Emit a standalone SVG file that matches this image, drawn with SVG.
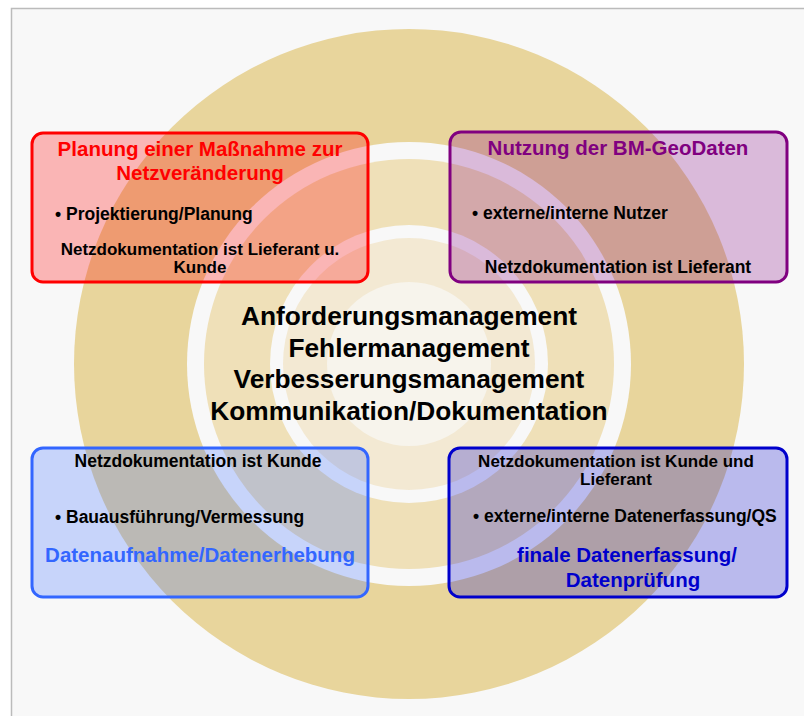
<svg xmlns="http://www.w3.org/2000/svg" width="804" height="716" viewBox="0 0 804 716">
<style>
text{font-family:"Liberation Sans",Arial,sans-serif;font-weight:bold;fill:#000}
.t{font-size:20.5px}
.b{font-size:17.5px}
.w{font-size:17px}
.c{font-size:26.3px;text-anchor:middle}
.m{text-anchor:middle}
.box{stroke-width:3}
</style>
<rect x="0" y="0" width="804" height="716" fill="#ffffff"/>
<rect x="11.5" y="8.5" width="800" height="720" fill="#f8f8f8" stroke="#bbbbbb" stroke-width="1.5"/>
<g id="rings">
<circle cx="409" cy="364" r="335" fill="#e8d59c"/>
<circle cx="409" cy="364" r="222" fill="#f8f8f8"/>
<circle cx="409" cy="364" r="205" fill="#efe0b8"/>
<circle cx="409" cy="364" r="139" fill="#f8f8f8"/>
<circle cx="409" cy="364" r="126" fill="#f3e9d3"/>
<circle cx="409" cy="364" r="82" fill="#f7f4ec"/>
</g>
<g id="center">
<text class="c" x="409" y="325">Anforderungsmanagement</text>
<text class="c" x="409" y="357">Fehlermanagement</text>
<text class="c" x="409" y="388">Verbesserungsmanagement</text>
<text class="c" x="409" y="420">Kommunikation/Dokumentation</text>
</g>
<g id="planung">
<rect class="box" x="32" y="133" width="336" height="149" rx="11" fill="#ff0000" fill-opacity="0.27" stroke="#ff0000"/>
<text class="t m" x="200" y="156" style="fill:#ff0000">Planung einer Maßnahme zur</text>
<text class="t m" x="200" y="179.5" style="fill:#ff0000">Netzveränderung</text>
<text class="b" x="55" y="220">• Projektierung/Planung</text>
<text class="w m" x="200" y="255">Netzdokumentation ist Lieferant u.</text>
<text class="w m" x="200" y="273">Kunde</text>
</g>
<g id="nutzung">
<rect class="box" x="450" y="132" width="337" height="150" rx="11" fill="#800080" fill-opacity="0.25" stroke="#800080"/>
<text class="t m" x="618" y="155" style="fill:#800080">Nutzung der BM-GeoDaten</text>
<text class="b" x="472" y="219">• externe/interne Nutzer</text>
<text class="b m" x="618" y="273">Netzdokumentation ist Lieferant</text>
</g>
<g id="datenaufnahme">
<rect class="box" x="32" y="448" width="336" height="149" rx="11" fill="#3366ff" fill-opacity="0.25" stroke="#3366ff"/>
<text class="b m" x="198" y="467">Netzdokumentation ist Kunde</text>
<text class="b" x="55" y="523">• Bauausführung/Vermessung</text>
<text class="t m" x="200" y="562" style="fill:#3366ff">Datenaufnahme/Datenerhebung</text>
</g>
<g id="datenerfassung">
<rect class="box" x="449" y="448" width="338" height="149" rx="11" fill="#0000cc" fill-opacity="0.25" stroke="#0000cc"/>
<text class="w m" x="616" y="466.5">Netzdokumentation ist Kunde und</text>
<text class="w m" x="616" y="485">Lieferant</text>
<text class="b" x="473" y="522">• externe/interne Datenerfassung/QS</text>
<text class="t m" x="627" y="562" style="fill:#0000cc">finale Datenerfassung/</text>
<text class="t m" x="633" y="587" style="fill:#0000cc">Datenprüfung</text>
</g>
<g id="connectors"/>
</svg>
